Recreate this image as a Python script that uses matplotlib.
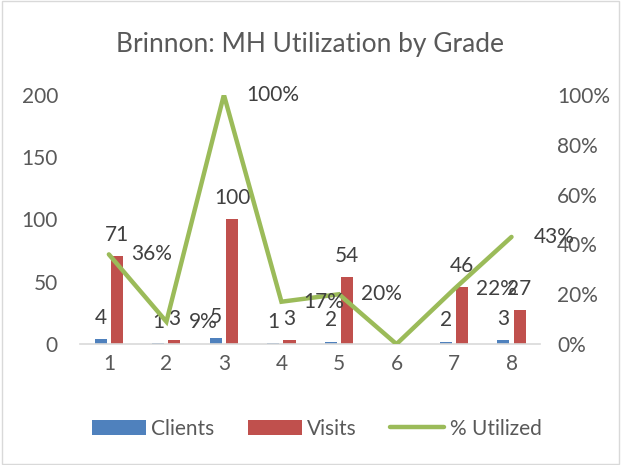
import numpy as np
import matplotlib.pyplot as plt
from matplotlib.patches import Rectangle

plt.rcParams['font.family'] = ['Lato', 'DejaVu Sans']

grades = ['1', '2', '3', '4', '5', '6', '7', '8']
clients = [4, 1, 5, 1, 2, 0, 2, 3]
visits = [71, 3, 100, 3, 54, 0, 46, 27]
utilized = [0.36, 0.09, 1.00, 0.17, 0.20, 0.0, 0.22, 0.43]
show_bar_label = [True, True, True, True, True, False, True, True]
util_labels = ['36%', '9%', '100%', '17%', '20%', '', '22%', '43%']

c_clients = '#4F81BD'
c_visits = '#C0504D'
c_line = '#9BBB59'
c_text = '#595959'
c_label = '#404040'
fs = 15

fig = plt.figure(figsize=(6.21, 4.65), dpi=100)
fig.patches.append(Rectangle((0.003, 0.003), 0.994, 0.994, transform=fig.transFigure,
                             fill=False, edgecolor='#D9D9D9', linewidth=1))
ax = fig.add_axes([0.129, 0.260, 0.741, 0.536])
ax2 = ax.twinx()

x = np.arange(len(grades))
w = 0.21
gap = 0.035
ax.bar(x - w / 2 - gap, clients, w, color=c_clients, label='Clients', zorder=2)
ax.bar(x + w / 2 + gap, visits, w, color=c_visits, label='Visits', zorder=2)

# etiquetas das barras
for i in range(len(grades)):
    if show_bar_label[i]:
        ax.annotate(str(clients[i]), (x[i] - w / 2 - gap, clients[i]), xytext=(0, 8),
                    textcoords='offset points', ha='center', va='bottom',
                    fontsize=fs, color=c_label)
        ax.annotate(str(visits[i]), (x[i] + w / 2 + gap, visits[i]), xytext=(0, 8),
                    textcoords='offset points', ha='center', va='bottom',
                    fontsize=fs, color=c_label)

ax2.plot(x, utilized, color=c_line, linewidth=3.2, label='% Utilized',
         solid_capstyle='round', solid_joinstyle='miter', zorder=3)
for i in range(len(grades)):
    if util_labels[i]:
        ax2.annotate(util_labels[i], (x[i], utilized[i]), xytext=(16, 0),
                     textcoords='offset points', ha='left', va='center',
                     fontsize=fs, color=c_label)

ax.set_xlim(-0.5, len(grades) - 0.5)
ax.set_ylim(0, 200)
ax.set_yticks([0, 50, 100, 150, 200])
ax2.set_ylim(0, 1)
ax2.set_yticks([0, 0.2, 0.4, 0.6, 0.8, 1.0])
ax2.set_yticklabels(['0%', '20%', '40%', '60%', '80%', '100%'])
ax.set_xticks(x)
ax.set_xticklabels(grades)

for a in (ax, ax2):
    for s in a.spines.values():
        s.set_visible(False)
    a.tick_params(length=0, labelsize=fs, labelcolor=c_text)
ax.spines['bottom'].set_visible(True)
ax.spines['bottom'].set_color('#D9D9D9')
ax.spines['bottom'].set_linewidth(1.2)
ax.tick_params(axis='y', pad=16)
ax.tick_params(axis='x', pad=7)
ax2.tick_params(axis='y', pad=12)

fig.text(0.5, 0.905, 'Brinnon: MH Utilization by Grade', ha='center', va='center',
         fontsize=19, color=c_text)

h1, l1 = ax.get_legend_handles_labels()
h2, l2 = ax2.get_legend_handles_labels()
fig.legend(h1 + h2, l1 + l2, loc='center', bbox_to_anchor=(0.51, 0.078), ncol=3,
           frameon=False, fontsize=fs, labelcolor=c_text, handlelength=2.6,
           handleheight=0.8, handletextpad=0.25, columnspacing=1.6)

fig.savefig('out.png', dpi=100)
